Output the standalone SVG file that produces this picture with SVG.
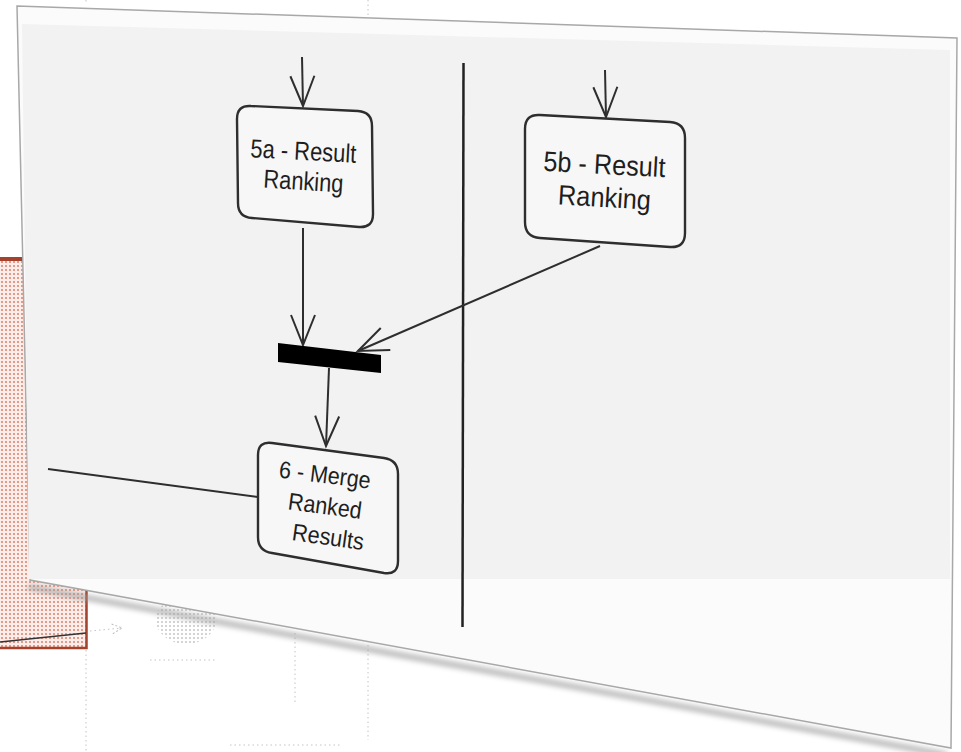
<svg xmlns="http://www.w3.org/2000/svg" width="961" height="752" viewBox="0 0 961 752">
  <defs>
    <pattern id="dots" width="4" height="4" patternUnits="userSpaceOnUse">
      <rect width="4" height="4" fill="#fbeeea"/>
      <rect x="1" y="1" width="2" height="2" fill="#e49a88"/>
    </pattern>
    <pattern id="gdots" width="4" height="4" patternUnits="userSpaceOnUse">
      <rect width="4" height="4" fill="#ffffff"/>
      <rect x="1" y="1" width="2" height="2" fill="#c9c9c9"/>
    </pattern>
    <filter id="blur" x="-10%" y="-10%" width="120%" height="120%">
      <feGaussianBlur stdDeviation="2.5"/>
    </filter>
    <marker id="open" viewBox="-32 -16 36 32" refX="0" refY="0" markerWidth="36" markerHeight="32" markerUnits="userSpaceOnUse" orient="auto" overflow="visible">
      <path d="M -30 -12 L 0 0 L -30 12" fill="none" stroke="#2e2e2e" stroke-width="2"/>
    </marker>
    <marker id="faint" viewBox="-12 -6 14 12" refX="0" refY="0" markerWidth="14" markerHeight="12" markerUnits="userSpaceOnUse" orient="auto" overflow="visible">
      <path d="M -10 -5 L 0 0 L -10 5" fill="none" stroke="#bbbbbb" stroke-width="1" stroke-dasharray="2 2"/>
    </marker>
    <style>
      .box { fill: #f7f7f7; stroke: #2e2e2e; stroke-width: 2.4; }
      .lbl { font-family: "Liberation Sans", Arial, sans-serif; fill: #1e1e1e; text-anchor: middle; }
      .edge { fill: none; stroke: #2e2e2e; stroke-width: 2; }
      .dotl { fill: none; stroke: #c4c4c4; stroke-width: 1; stroke-dasharray: 1.5 3; }
    </style>
  </defs>

  <rect width="961" height="752" fill="#ffffff"/>

  <!-- faint background behind the panel -->
  <g id="background">
    <rect x="-2" y="258" width="89" height="390" fill="url(#dots)"/>
    <path d="M 0 259 L 24 259" stroke="#a4432d" stroke-width="4"/>
    <path d="M 86.5 585 L 86.5 648 L 0 648" fill="none" stroke="#a4432d" stroke-width="2.5"/>
    <path d="M 0 642 L 86 633" stroke="#333" stroke-width="1.3"/>
    <path d="M 90 631 L 122 628" class="dotl" stroke="#bbbbbb" marker-end="url(#faint)"/>
    <ellipse cx="186" cy="620" rx="30" ry="24" fill="url(#gdots)" opacity="0.8"/>
    <path d="M 86 650 L 86 752" class="dotl"/>
    <path d="M 295 633 L 295 705" class="dotl"/>
    <path d="M 368 645 L 368 740" class="dotl"/>
    <path d="M 230 745 L 340 745" class="dotl"/>
    <path d="M 86 0 L 86 4" class="dotl"/>
    <path d="M 368 0 L 368 15" class="dotl"/>
    <path d="M 150 660 L 215 660" class="dotl"/>
  </g>

  <!-- panel -->
  <g id="panel">
    <polygon points="30,584 950,752 940,757 26,590" fill="#9a9a9a" filter="url(#blur)" opacity="0.6"/>
    <polygon points="17,6 957,38 951,748 30,580" fill="#fbfbfb" stroke="#a8a8a8" stroke-width="1.5"/>
    <polygon points="22,24 950,50 950,579 29,579" fill="#f2f2f2"/>
  </g>

  <!-- swimlane divider -->
  <g id="divider">
    <path d="M 463.5 63 L 462.5 627" stroke="#222" stroke-width="2.5"/>
  </g>

  <!-- connectors -->
  <g id="connectors">
    <path class="edge" d="M 302 57 L 303 106" marker-end="url(#open)"/>
    <path class="edge" d="M 605 70 L 606 117" marker-end="url(#open)"/>
    <path class="edge" d="M 303 228 L 303 345" marker-end="url(#open)"/>
    <path class="edge" d="M 600 246 L 358 351" marker-end="url(#open)"/>
    <path class="edge" d="M 329 368 L 326 446" marker-end="url(#open)"/>
    <path class="edge" d="M 48 469 L 258 497"/>
  </g>

  <!-- nodes -->
  <g id="node-5a">
    <path class="box" d="M 251,106 L 358,111 Q 372,112 372,126 L 373,214 Q 373,228 359,227 L 252,218 Q 238,217 238,203 L 237,119 Q 237,105 251,106 Z"/>
    <text class="lbl" font-size="26" textLength="106" lengthAdjust="spacingAndGlyphs" transform="translate(303,160) rotate(3)">5a - Result</text>
    <text class="lbl" font-size="26" textLength="80" lengthAdjust="spacingAndGlyphs" transform="translate(303,190) rotate(3.5)">Ranking</text>
  </g>

  <g id="node-5b">
    <path class="box" d="M 540,115 L 670,122 Q 685,123 685,138 L 685,233 Q 685,248 670,247 L 540,238 Q 525,237 525,222 L 525,129 Q 525,114 540,115 Z"/>
    <text class="lbl" font-size="28" textLength="122" lengthAdjust="spacingAndGlyphs" transform="translate(604,174) rotate(3)">5b - Result</text>
    <text class="lbl" font-size="28" textLength="93" lengthAdjust="spacingAndGlyphs" transform="translate(604,207) rotate(3.5)">Ranking</text>
  </g>

  <g id="node-fork">
    <polygon points="278,343 381,355 381,373 278,362" fill="#000"/>
  </g>

  <g id="node-6">
    <path class="box" d="M 272,443 L 384,458 Q 398,460 398,474 L 398,561 Q 398,575 384,573 L 272,553 Q 258,551 258,537 L 258,455 Q 258,441 272,443 Z"/>
    <text class="lbl" font-size="24" textLength="92" lengthAdjust="spacingAndGlyphs" transform="translate(324,483) rotate(7)">6 - Merge</text>
    <text class="lbl" font-size="24" textLength="74" lengthAdjust="spacingAndGlyphs" transform="translate(324,514) rotate(7.5)">Ranked</text>
    <text class="lbl" font-size="24" textLength="72" lengthAdjust="spacingAndGlyphs" transform="translate(327,545) rotate(8)">Results</text>
  </g>
</svg>
